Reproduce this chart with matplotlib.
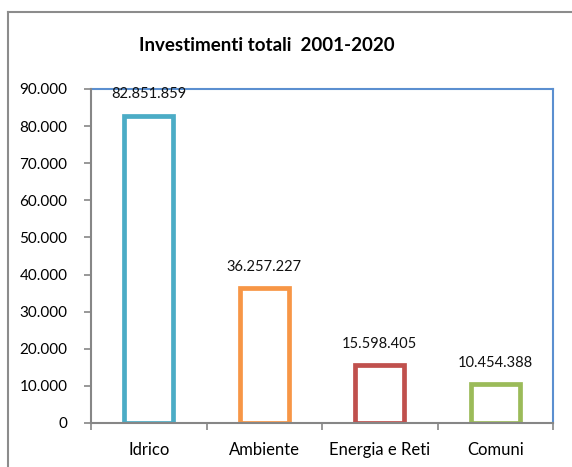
import matplotlib
matplotlib.use("Agg")
import matplotlib.pyplot as plt
from matplotlib.lines import Line2D
from matplotlib.ticker import FixedLocator, NullFormatter

categories = ["Idrico", "Ambiente", "Energia e Reti", "Comuni"]
values = [82851859, 36257227, 15598405, 10454388]
value_labels = ["82.851.859", "36.257.227", "15.598.405", "10.454.388"]
colors = ["#4BACC6", "#F79646", "#C0504D", "#9BBB59"]
y_ticks = [0, 10000, 20000, 30000, 40000, 50000, 60000, 70000, 80000, 90000]
y_tick_labels = ["0", "10.000", "20.000", "30.000", "40.000", "50.000",
                 "60.000", "70.000", "80.000", "90.000"]

plt.rcParams["font.family"] = ["Lato", "DejaVu Sans"]

fig = plt.figure(figsize=(5.72, 4.67), dpi=100)
W, H = 572, 467

# chart frame (top and left edges)
fig.add_artist(Line2D([8 / W, 1.0], [1 - 12 / H, 1 - 12 / H], color="#8C8C8C",
                      lw=1.5, transform=fig.transFigure))
fig.add_artist(Line2D([8 / W, 8 / W], [0.0, 1 - 12 / H], color="#8C8C8C",
                      lw=1.5, transform=fig.transFigure))

ax = fig.add_axes([91 / W, 1 - 423 / H, (553 - 91) / W, (423 - 89) / H])

heights = [v / 1000 for v in values]
x = list(range(len(categories)))
ax.bar(x, heights, width=0.42, facecolor="white", edgecolor=colors,
       linewidth=3.4, zorder=3)

for xi, h, lab in zip(x, heights, value_labels):
    ax.annotate(lab, (xi, h), xytext=(0, 10.5), textcoords="offset points",
                ha="center", va="bottom", fontsize=10.5, color="#111111")

ax.set_xlim(-0.5, len(categories) - 0.5)
ax.set_ylim(0, 90000)

ax.set_yticks(y_ticks)
ax.set_yticklabels(y_tick_labels, fontsize=11)
ax.set_xticks(x)
ax.set_xticklabels(categories, fontsize=12)
ax.xaxis.set_minor_locator(FixedLocator([i - 0.5 for i in range(len(categories) + 1)]))
ax.xaxis.set_minor_formatter(NullFormatter())
ax.tick_params(axis="x", which="major", length=0, pad=14)
ax.tick_params(axis="x", which="minor", length=5, width=1.2, color="#868686")
ax.tick_params(axis="y", length=5, width=1.2, color="#868686", pad=12)

for side in ("top", "right"):
    ax.spines[side].set_color("#5B8FD0")
    ax.spines[side].set_linewidth(1.5)
for side in ("left", "bottom"):
    ax.spines[side].set_color("#868686")
    ax.spines[side].set_linewidth(1.5)
    ax.spines[side].set_zorder(4)

fig.text(267 / W, 1 - 45 / H, "Investimenti totali  2001-2020", ha="center",
         va="center", fontsize=13.5, fontweight="bold")

fig.savefig("out.png", dpi=100)
